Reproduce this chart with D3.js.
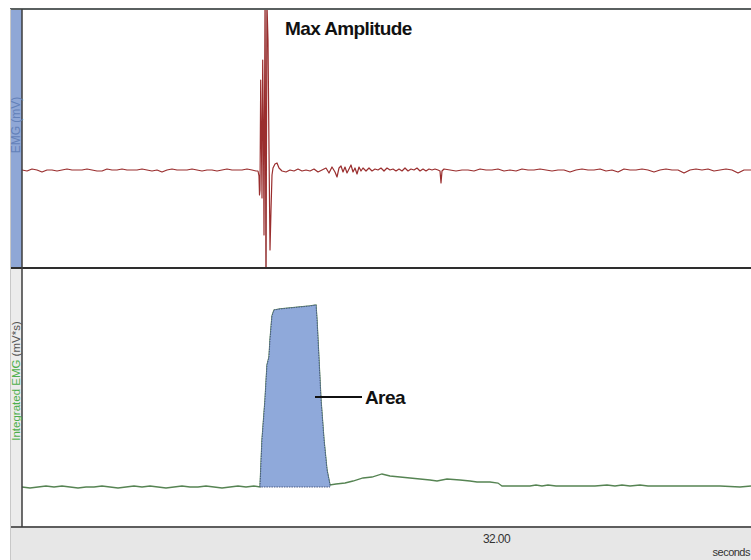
<!DOCTYPE html>
<html>
<head>
<meta charset="utf-8">
<script src="https://cdn.jsdelivr.net/npm/d3@7"></script>
<style>
  html, body { margin: 0; padding: 0; background: #fff; }
  svg { display: block; font-family: "Liberation Sans", Arial, sans-serif; }
</style>
</head>
<body>
<div id="container"></div>
<script>
// raw EMG, [seconds, mV]
const emg = [
  [27.26, 0], [27.31, -0.01], [27.36, 0.01], [27.41, 0], [27.46, -0.02], [27.51, 0],
  [27.56, 0], [27.61, -0.01], [27.66, 0], [27.71, 0.01], [27.76, 0], [27.81, 0],
  [27.86, 0], [27.91, 0.01], [27.96, 0], [28.01, -0.01], [28.06, -0.01], [28.11, 0.01],
  [28.16, 0], [28.21, 0], [28.26, 0.01], [28.31, 0], [28.36, 0], [28.41, 0],
  [28.46, 0.01], [28.51, 0], [28.56, -0.01], [28.61, 0], [28.66, -0.02], [28.71, 0],
  [28.76, 0.01], [28.81, 0], [28.86, 0], [28.91, 0], [28.96, 0.01], [29.01, 0],
  [29.06, -0.01], [29.11, 0], [29.16, 0], [29.21, -0.01], [29.26, 0], [29.31, 0.01],
  [29.36, 0], [29.41, 0], [29.46, 0], [29.51, 0.01], [29.56, 0], [29.60, -0.01],
  [29.62, -0.01], [29.63, -0.06], [29.635, -0.25], [29.64, -0.20], [29.647, 0.90],
  [29.655, 0.20], [29.66, -0.28], [29.667, 1.10], [29.675, 0.30], [29.68, -0.65],
  [29.69, 1.65], [29.70, -1.00], [29.71, 1.65], [29.72, 1.30], [29.73, 0.20],
  [29.74, -0.80], [29.75, -0.40], [29.76, -0.05], [29.77, 0.02], [29.79, 0.06],
  [29.81, 0.07], [29.83, 0.02], [29.86, -0.01], [29.90, -0.02], [29.94, 0],
  [29.98, -0.01], [30.02, 0.01], [30.06, -0.01], [30.10, 0], [30.14, -0.01], [30.18, 0.01],
  [30.22, -0.02], [30.26, 0], [30.30, 0.02], [30.33, -0.03], [30.36, 0.03], [30.39, -0.02],
  [30.41, -0.07], [30.43, 0.02], [30.45, 0.04], [30.47, -0.02], [30.49, 0.03], [30.51, -0.03],
  [30.53, 0.01], [30.55, 0.05], [30.57, -0.02], [30.59, 0.02], [30.61, -0.04], [30.63, 0.03],
  [30.65, -0.01], [30.67, 0.02], [30.70, -0.01], [30.73, 0.02], [30.76, -0.01], [30.79, 0.01],
  [30.82, 0], [30.85, 0.02], [30.88, -0.01], [30.91, 0.02], [30.94, 0], [30.97, 0.01],
  [31.00, -0.01], [31.03, 0.01], [31.06, -0.01], [31.09, 0.02], [31.12, -0.01], [31.15, 0.01],
  [31.18, 0], [31.21, 0.02], [31.24, -0.01], [31.27, 0.01], [31.30, -0.01], [31.33, 0.01],
  [31.36, 0], [31.39, 0.01], [31.42, 0], [31.44, -0.01], [31.45, -0.13], [31.46, -0.01],
  [31.48, 0.01], [31.54, 0], [31.60, -0.01], [31.66, 0], [31.72, 0], [31.78, -0.01],
  [31.84, 0.01], [31.90, 0], [31.96, 0], [32.02, 0.01], [32.08, -0.01], [32.14, 0],
  [32.20, -0.01], [32.26, 0.01], [32.32, 0], [32.38, 0], [32.44, 0.01], [32.50, 0],
  [32.56, -0.01], [32.62, 0], [32.68, 0], [32.74, -0.02], [32.80, 0], [32.86, 0.01],
  [32.92, 0], [32.98, 0], [33.04, 0.01], [33.10, -0.01], [33.16, 0], [33.22, -0.02],
  [33.28, 0.01], [33.34, 0], [33.40, 0], [33.46, 0.01], [33.52, 0], [33.58, -0.02],
  [33.64, 0], [33.70, 0.01], [33.76, 0], [33.82, 0], [33.88, -0.03], [33.94, 0],
  [34.00, 0.01], [34.06, 0], [34.12, 0.01], [34.18, -0.01], [34.24, 0], [34.30, 0.01],
  [34.36, 0], [34.42, -0.03], [34.48, 0], [34.55, 0]
];

// integrated EMG, [seconds, mV*s]
const integrated = [
  [27.26, 0.040], [27.34, 0.039], [27.42, 0.040], [27.50, 0.041], [27.58, 0.040],
  [27.66, 0.041], [27.74, 0.040], [27.82, 0.039], [27.90, 0.040], [27.98, 0.040],
  [28.06, 0.041], [28.14, 0.040], [28.22, 0.039], [28.30, 0.040], [28.38, 0.041],
  [28.46, 0.040], [28.54, 0.041], [28.62, 0.040], [28.70, 0.039], [28.78, 0.040],
  [28.86, 0.041], [28.94, 0.040], [29.02, 0.040], [29.10, 0.041], [29.18, 0.040],
  [29.26, 0.039], [29.34, 0.040], [29.42, 0.041], [29.50, 0.040], [29.58, 0.041],
  [29.64, 0.040], [29.66, 0.087], [29.69, 0.127], [29.71, 0.162], [29.73, 0.170],
  [29.74, 0.187], [29.76, 0.211], [29.78, 0.217], [29.84, 0.218], [29.94, 0.219],
  [30.04, 0.220], [30.14, 0.221], [30.20, 0.222], [30.21, 0.207], [30.23, 0.167],
  [30.25, 0.127], [30.28, 0.087], [30.31, 0.057], [30.34, 0.042], [30.40, 0.043],
  [30.49, 0.044], [30.57, 0.046], [30.67, 0.049], [30.76, 0.050], [30.86, 0.053],
  [30.94, 0.051], [31.04, 0.050], [31.14, 0.049], [31.24, 0.048], [31.34, 0.047],
  [31.41, 0.046], [31.51, 0.048], [31.64, 0.047], [31.74, 0.046], [31.81, 0.045],
  [31.94, 0.045], [32.02, 0.044], [32.06, 0.041], [32.19, 0.041], [32.34, 0.041],
  [32.40, 0.042], [32.46, 0.041], [32.52, 0.042], [32.60, 0.041], [32.79, 0.041],
  [32.99, 0.041], [33.11, 0.042], [33.19, 0.041], [33.26, 0.042], [33.34, 0.041],
  [33.44, 0.042], [33.52, 0.041], [33.74, 0.041], [34.04, 0.041], [34.24, 0.041],
  [34.44, 0.040], [34.55, 0.041]
];

const timeDomain = [27.26, 34.55];
const emgDomain = [-0.98, 1.61];
const intDomain = [0, 0.259];
const xTicks = [32];
const cursorTime = 29.70;
const areaRange = [29.64, 30.34];
const areaBase = 0.040;

const w = 751;
const h = 560;
const padL = 22;
const padT = 9;
const midY = 268;
const botY = 527;

const svg = d3.select('#container')
  .append('svg')
    .attr('width', w)
    .attr('height', h);

const x = d3.scaleLinear().domain(timeDomain).range([padL, w]);
const yEmg = d3.scaleLinear().domain(emgDomain).range([midY, padT]);
const yInt = d3.scaleLinear().domain(intDomain).range([botY, midY]);

// side strips and axis band
svg.append('rect')
  .attr('x', 10).attr('y', padT).attr('width', padL - 10).attr('height', midY - padT)
  .attr('fill', '#8fa7d6');
svg.append('rect')
  .attr('x', 10).attr('y', midY).attr('width', padL - 10).attr('height', h - midY)
  .attr('fill', '#ececec');
svg.append('rect')
  .attr('x', 10).attr('y', botY).attr('width', w - 10).attr('height', h - botY)
  .attr('fill', '#e7e7e7');

svg.append('defs').append('clipPath')
  .attr('id', 'clipTop')
  .append('rect')
    .attr('x', padL).attr('y', padT).attr('width', w - padL).attr('height', midY - padT);

// cursor
svg.append('line')
  .attr('x1', x(cursorTime)).attr('x2', x(cursorTime))
  .attr('y1', padT).attr('y2', midY)
  .attr('stroke', '#a08a8a')
  .attr('stroke-width', 1);

const emgLine = d3.line()
  .x(d => x(d[0]))
  .y(d => yEmg(d[1]));

svg.append('path')
  .datum(emg)
  .attr('clip-path', 'url(#clipTop)')
  .attr('fill', 'none')
  .attr('stroke', '#9a2e2e')
  .attr('stroke-width', 1.2)
  .attr('stroke-linejoin', 'round')
  .attr('d', emgLine);

// integrated trace + shaded area
const intLine = d3.line()
  .x(d => x(d[0]))
  .y(d => yInt(d[1]));

svg.append('path')
  .datum(integrated)
  .attr('fill', 'none')
  .attr('stroke', '#568453')
  .attr('stroke-width', 1.3)
  .attr('d', intLine);

const areaPts = integrated.filter(d => d[0] >= areaRange[0] && d[0] <= areaRange[1]);

const area = d3.area()
  .x(d => x(d[0]))
  .y0(yInt(areaBase))
  .y1(d => yInt(d[1]));

svg.append('path')
  .datum(areaPts)
  .attr('fill', '#8fa9da')
  .attr('stroke', '#4a5a85')
  .attr('stroke-width', 1)
  .attr('stroke-dasharray', '1.5,1')
  .attr('d', area);

// frame lines
svg.append('line')
  .attr('x1', 10).attr('x2', w).attr('y1', padT).attr('y2', padT)
  .attr('stroke', '#5a6060').attr('stroke-width', 2);
svg.append('line')
  .attr('x1', 10).attr('x2', w).attr('y1', midY).attr('y2', midY)
  .attr('stroke', '#2e2e2e').attr('stroke-width', 2);
svg.append('line')
  .attr('x1', 10).attr('x2', w).attr('y1', botY).attr('y2', botY)
  .attr('stroke', '#5e5e5e').attr('stroke-width', 2);
svg.append('line')
  .attr('x1', padL).attr('x2', padL).attr('y1', padT).attr('y2', botY)
  .attr('stroke', '#3c3c3c').attr('stroke-width', 1.5);
svg.append('line')
  .attr('x1', 10.5).attr('x2', 10.5).attr('y1', padT).attr('y2', h)
  .attr('stroke', '#c8c8c8').attr('stroke-width', 1);

// x axis
const xAxis = d3.axisBottom(x)
  .tickValues(xTicks)
  .tickFormat(d3.format('.2f'))
  .tickSize(0);

const gx = svg.append('g')
  .attr('transform', 'translate(0,' + (botY + 4) + ')')
  .call(xAxis);
gx.select('.domain').remove();
gx.selectAll('text')
  .style('font-family', '"Liberation Sans Narrow", "Arial Narrow", sans-serif')
  .style('font-size', '12px')
  .style('letter-spacing', '-0.6px')
  .attr('fill', '#333');

svg.append('text')
  .attr('x', w - 1)
  .attr('y', 556)
  .attr('text-anchor', 'end')
  .style('font-family', '"Liberation Sans Narrow", "Arial Narrow", sans-serif')
  .style('font-size', '11px')
  .style('letter-spacing', '-0.5px')
  .attr('fill', '#333')
  .text('seconds');

// channel labels
svg.append('text')
  .attr('transform', 'translate(20,' + 125 + ') rotate(-90)')
  .attr('text-anchor', 'middle')
  .style('font-size', '12px')
  .attr('fill', '#6381b9')
  .text('EMG (mV)');

const intLabel = svg.append('text')
  .attr('transform', 'translate(20,' + 381 + ') rotate(-90)')
  .attr('text-anchor', 'middle')
  .style('font-size', '11.5px');
intLabel.append('tspan').attr('fill', '#4caf4a').text('Integrated EMG ');
intLabel.append('tspan').attr('fill', '#555').text('(mV*s)');

// annotations
svg.append('text')
  .attr('x', x(29.89))
  .attr('y', 35)
  .style('font-size', '19px')
  .style('font-weight', 'bold')
  .style('letter-spacing', '-0.6px')
  .attr('fill', '#111')
  .text('Max Amplitude');

svg.append('line')
  .attr('x1', x(30.19)).attr('x2', x(30.66))
  .attr('y1', yInt(0.130)).attr('y2', yInt(0.130))
  .attr('stroke', '#111')
  .attr('stroke-width', 2);

svg.append('text')
  .attr('x', x(30.69))
  .attr('y', yInt(0.130) + 7)
  .style('font-size', '19px')
  .style('font-weight', 'bold')
  .style('letter-spacing', '-0.6px')
  .attr('fill', '#111')
  .text('Area');
</script>
</body>
</html>
